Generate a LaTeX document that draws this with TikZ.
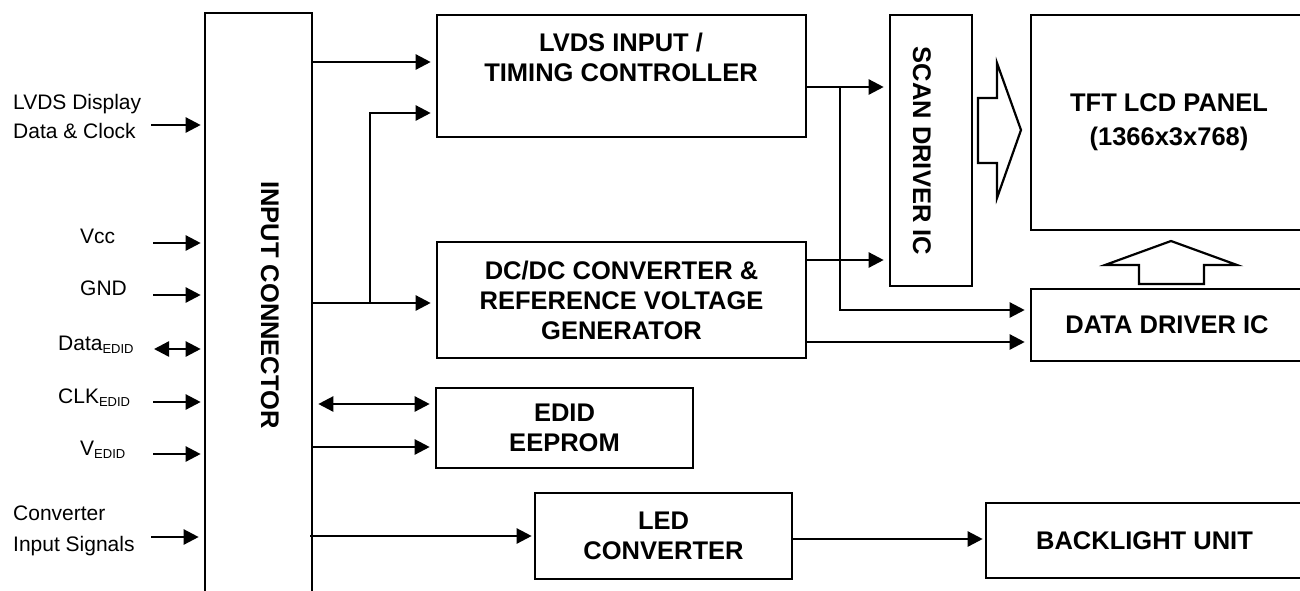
\documentclass[tikz,border=0pt]{standalone}
\usepackage{fontspec}
\setmainfont{Liberation Sans}
\usetikzlibrary{arrows.meta}
\newcommand\boxfont{\fontsize{25.5}{30}\selectfont\bfseries}
\newcommand\lblfont{\fontsize{21}{29}\selectfont}
\newcommand\subtxt[1]{\raisebox{-3pt}{\fontsize{13}{13}\selectfont #1}}
\begin{document}
\begin{tikzpicture}[x=1pt,y=-1pt,
  box/.style={draw, line width=2.6pt, inner sep=0pt, align=center, font=\boxfont},
  txt/.style={inner sep=0pt, align=center, font=\boxfont},
  lbl/.style={inner sep=0pt, font=\lblfont},
  arr/.style={line width=2.4pt, -{Triangle[length=15pt,width=15pt]}, shorten >=5pt},
  arrin/.style={line width=2.4pt, -{Triangle[length=15pt,width=15pt]}, shorten >=3pt},
  darr/.style={line width=2.4pt, {Triangle[length=15pt,width=15pt]}-{Triangle[length=15pt,width=15pt]}},
  hollow/.style={draw, line width=2.2pt, line join=miter}]
\useasboundingbox (0,0) rectangle (1300,590);

% boxes
\node[box, minimum width=107pt, minimum height=587pt] (conn) at (258.5,306.5) {};
\node[txt, rotate=-90] (connt) at (270,305) {INPUT CONNECTOR};
\node[box, minimum width=369pt, minimum height=122pt] (lvds) at (621.5,76) {};
\node[txt] (lvdst) at (621,57.5) {LVDS INPUT /\\TIMING CONTROLLER};
\node[box, minimum width=369pt, minimum height=116pt] (dcdc) at (621.5,300)
  {DC/DC CONVERTER \&\\REFERENCE VOLTAGE\\GENERATOR};
\node[box, minimum width=257pt, minimum height=80pt] (edid) at (564.5,428) {EDID\\EEPROM};
\node[box, minimum width=257pt, minimum height=86pt] (led) at (663.5,536) {LED\\CONVERTER};
\node[box, minimum width=82pt, minimum height=271pt] (scan) at (931,150.5) {};
\node[txt, rotate=-90] (scant) at (922,151) {SCAN DRIVER IC};
\node[box, minimum width=272pt, minimum height=215pt] (tft) at (1167,122.5) {};
\node[txt] (tftt) at (1169,122) {TFT LCD PANEL\\[4pt](1366x3x768)};
\node[box, minimum width=272pt, minimum height=72pt] (ddrv) at (1167,325) {DATA DRIVER IC};
\node[box, minimum width=317pt, minimum height=75pt] (bl) at (1144.5,540.5) {BACKLIGHT UNIT};

% left labels and inputs
\node[lbl, anchor=west, align=left] (lvdsin) at (13,116) {LVDS Display\\Data \& Clock};
\node[lbl, anchor=base west] (vcc) at (80,243) {Vcc};
\node[lbl, anchor=base west] (gnd) at (80,295) {GND};
\node[lbl, anchor=base west] (data) at (58,350) {Data\subtxt{EDID}};
\node[lbl, anchor=base west] (clk) at (58,403) {CLK\subtxt{EDID}};
\node[lbl, anchor=base west] (vedid) at (80,455) {V\subtxt{EDID}};
\node[lbl, anchor=west, align=left] (convin) at (13,531) {Converter\\[2pt]Input Signals};

\coordinate (a1) at (151,125);
\coordinate (a2) at (153,243);
\coordinate (a3) at (153,295);
\coordinate (a4) at (154,349);
\coordinate (a5) at (153,402);
\coordinate (a6) at (153,454);
\coordinate (a7) at (151,537);
\draw[arrin] (a1) -- (conn.west |- a1);
\draw[arrin] (a2) -- (conn.west |- a2);
\draw[arrin] (a3) -- (conn.west |- a3);
\draw[darr, shorten >=3pt] (a4) -- (conn.west |- a4);
\draw[arrin] (a5) -- (conn.west |- a5);
\draw[arrin] (a6) -- (conn.west |- a6);
\draw[arrin] (a7) -- ([xshift=-2pt]conn.west |- a7);

% connector outputs
\coordinate (j1) at (370,303);
\draw[arr] (conn.east |- 0,62) -- (lvds.west |- 0,62);
\draw[arr] (conn.east |- j1) -- (dcdc.west |- j1);
\draw[arr] (j1) -- (j1 |- 0,113) -- (lvds.west |- 0,113);
\draw[darr, shorten <=5pt, shorten >=5pt] (conn.east |- 0,404) -- (edid.west |- 0,404);
\draw[arr] (conn.east |- 0,447) -- (edid.west |- 0,447);
\draw[arr, shorten >=2pt] ([xshift=-3pt]conn.east |- 0,536) -- (led.west |- 0,536);

% timing / dcdc outputs
\coordinate (j2) at (840,87);
\draw[arr] (lvds.east |- j2) -- (scan.west |- j2);
\draw[arr] (j2) -- (j2 |- 0,310) -- (ddrv.west |- 0,310);
\draw[arr] (dcdc.east |- 0,260) -- (scan.west |- 0,260);
\draw[arr] (dcdc.east |- 0,342) -- (ddrv.west |- 0,342);
\draw[arr, shorten >=2pt] (led.east |- 0,539) -- (bl.west |- 0,539);

% hollow arrows
\draw[hollow] (978,98) -- (997,98) -- (997,63) -- (1021,130) -- (997,198) -- (997,163) -- (978,163) -- cycle;
\draw[hollow] (1139,284) -- (1139,265) -- (1105,265) -- (1171,241) -- (1237,265) -- (1204,265) -- (1204,284) -- cycle;
\end{tikzpicture}
\end{document}
